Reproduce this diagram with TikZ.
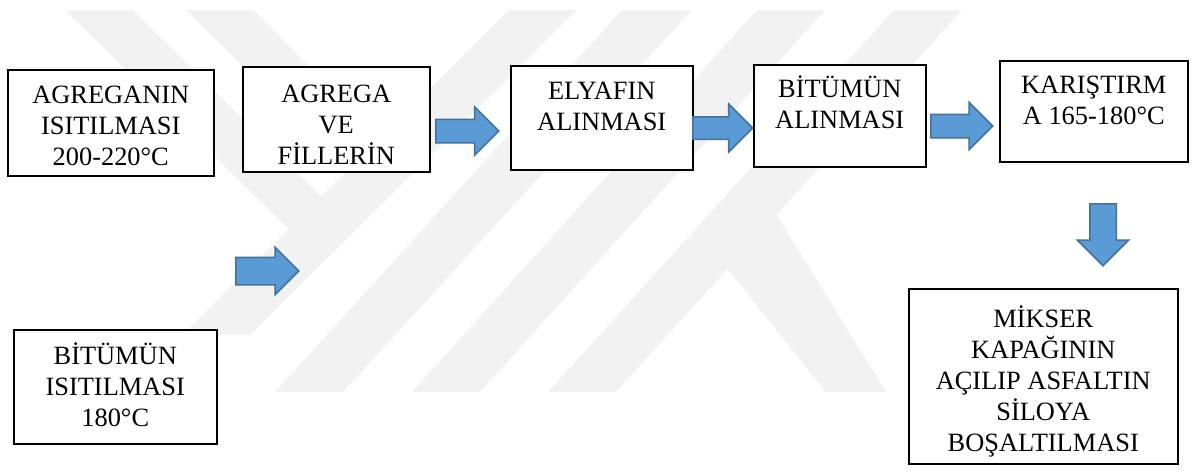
\documentclass[tikz,border=0pt]{standalone}
\usepackage{fontspec}
\setmainfont{Liberation Serif}
\usetikzlibrary{shapes.arrows, positioning}
\definecolor{arrowfill}{HTML}{5B9BD5}
\definecolor{arrowline}{HTML}{41719C}
\definecolor{wmgray}{HTML}{F2F2F2}
% top aligned text: width, height, first baseline, lines
\newcommand{\boxlines}[4]{\parbox[c][#2][t]{#1}{\centering\rule{0pt}{#3}#4}}

\begin{document}
\begin{tikzpicture}[x=1pt, y=-1pt,
        stepbox/.style={draw, line width=1.5pt, fill=white, inner sep=0pt, anchor=north west, font=\fontsize{26.4}{31}\selectfont},
        blockarrow/.style={single arrow, draw=arrowline, fill=arrowfill, line width=1.5pt, single arrow tip angle=90, inner xsep=0pt, text height=0pt, text depth=0pt, anchor=tail},
        wmark/.style={fill=wmgray, draw=none}
    ]
        \useasboundingbox (0,0) rectangle (1192,475);

        % Watermark
        \fill[wmark] (65,10) -- (133,10) -- (340,215) -- (300,240) -- cycle;
        \fill[wmark] (186,10) -- (254,10) -- (410,170) -- (378,200) -- cycle;
        \fill[wmark] (509,10) -- (577,10) -- (250,335) -- (182,335) -- cycle;
        \fill[wmark] (622,10) -- (692,10) -- (343,392) -- (275,392) -- cycle;
        \fill[wmark] (757,10) -- (825,10) -- (480,392) -- (412,392) -- cycle;
        \fill[wmark] (894,10) -- (962,10) -- (616,392) -- (548,392) -- cycle;
        \fill[wmark] (727,268) -- (776,214) -- (886,392) -- (826,392) -- cycle;

        % Top row
        \node[stepbox] (agrisit) at (7,69) {\boxlines{206pt}{106pt}{34pt}{AGREGANIN\\ISITILMASI\\200-220°C}};
        \node[stepbox] (agfil) at (242,66) {\boxlines{187pt}{105pt}{36pt}{AGREGA\\VE\\FİLLERİN}};
        \node[stepbox] (elyaf) at (510,65) {\boxlines{182pt}{104pt}{34pt}{ELYAFIN\\ALINMASI}};
        \node[stepbox] (bitalin) at (753,64) {\boxlines{172pt}{102pt}{33pt}{BİTÜMÜN\\ALINMASI}};
        \node[stepbox] (karis) at (999,60) {\boxlines{188pt}{101pt}{33pt}{KARIŞTIRM\\A 165-180°C}};

        % Bottom row
        \node[stepbox] (bitisit) at (13,329) {\boxlines{203pt}{114pt}{35pt}{BİTÜMÜN\\ISITILMASI\\180°C}};
        \node[stepbox] (mikser) at (908,288) {\boxlines{269pt}{175pt}{39pt}{MİKSER\\KAPAĞININ\\AÇILIP ASFALTIN\\SİLOYA\\BOŞALTILMASI}};

        % Block arrows
        \node[blockarrow, minimum height=63pt, minimum width=47pt, inner ysep=11pt, single arrow head extend=12.5pt] (ar1) at (435,131) {};
        \node[blockarrow, minimum height=60pt, minimum width=47pt, inner ysep=10.5pt, single arrow head extend=13pt] (ar2) at (692,128) {};
        \node[blockarrow, minimum height=62pt, minimum width=46pt, inner ysep=11pt, single arrow head extend=12pt] (ar3) at (930,126) {};
        \node[blockarrow, minimum height=63pt, minimum width=46pt, inner ysep=13pt, single arrow head extend=10pt] (ar4) at (235,271) {};
        \node[blockarrow, rotate=-90, minimum height=62pt, minimum width=50pt, inner ysep=12.5pt, single arrow head extend=12.5pt] (ardown) at (1103,203) {};

\end{tikzpicture}
\end{document}
